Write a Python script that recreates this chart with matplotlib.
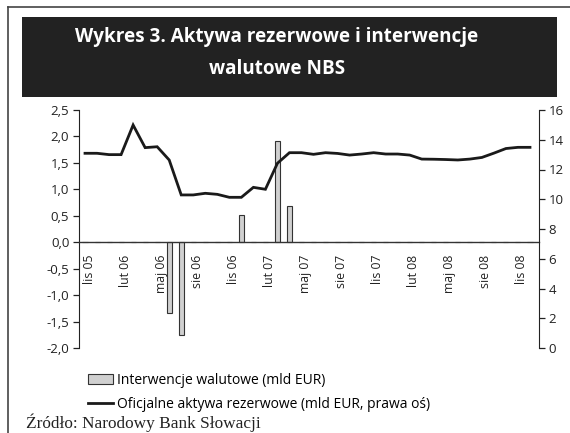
import matplotlib.pyplot as plt
import matplotlib.transforms as mtransforms
from matplotlib.lines import Line2D
from matplotlib.patches import Rectangle
from matplotlib.ticker import FuncFormatter

# =====================================================================
# DATA (lis 05 .. gru 08, monthly)
# =====================================================================
tick_labels = ["lis 05", "lut 06", "maj 06", "sie 06", "lis 06", "lut 07", "maj 07",
               "sie 07", "lis 07", "lut 08", "maj 08", "sie 08", "lis 08"]

# oficjalne aktywa rezerwowe, mld EUR (prawa oś)
reserves = [13.09, 13.09, 13.0, 13.0, 14.99, 13.47, 13.53, 12.64, 10.29, 10.29,
            10.40, 10.33, 10.13, 10.13, 10.80, 10.67, 12.42, 13.13, 13.13, 13.02,
            13.13, 13.08, 12.97, 13.04, 13.13, 13.04, 13.04, 12.97, 12.70, 12.69,
            12.67, 12.64, 12.70, 12.81, 13.10, 13.41, 13.49, 13.49]

# interwencje walutowe, mld EUR
interventions = [0, 0, 0, 0, 0, 0, 0, -1.34, -1.75, 0,
                 0, 0, 0, 0.51, 0, 0, 1.92, 0.69, 0, 0,
                 0, 0, 0, 0, 0, 0, 0, 0, 0, 0,
                 0, 0, 0, 0, 0, 0, 0, 0]

TITLE = "Wykres 3. Aktywa rezerwowe i interwencje\nwalutowe NBS"
SOURCE = "Źródło: Narodowy Bank Słowacji"
# =====================================================================

plt.rcParams['font.family'] = ['Open Sans', 'DejaVu Sans']

W, H = 570, 433
fig = plt.figure(figsize=(W / 100, H / 100), dpi=100)

# outer frame (left + top edge)
fig.add_artist(Line2D([8 / W, 8 / W], [0, 1 - 7 / H], color='#444444', lw=1.2))
fig.add_artist(Line2D([8 / W, 1], [1 - 7 / H, 1 - 7 / H], color='#444444', lw=1.2))

# dark title box
fig.add_artist(Rectangle((22 / W, 1 - 97 / H), (557 - 22) / W, 80 / H,
                         facecolor='#222222', edgecolor='none'))
fig.text(277 / W, 1 - 53 / H, TITLE, color='white', fontsize=13.6, fontweight='bold',
         ha='center', va='center', linespacing=1.75)

ax = fig.add_axes([79 / W, 1 - 348 / H, (539 - 79) / W, (348 - 110) / H])
ax2 = ax.twinx()

x = list(range(len(reserves)))

bars = ax.bar(x, interventions, width=0.42, color='#d0d0d0', edgecolor='#333333',
              linewidth=0.8, zorder=2)
line, = ax2.plot(x, reserves, color='#1a1a1a', lw=2.0, solid_joinstyle='miter')

ax.set_xlim(-0.5, len(reserves) - 0.25)
ax.set_ylim(-2.0, 2.5)
ax2.set_ylim(0, 16)
ax.set_yticks([-2.0, -1.5, -1.0, -0.5, 0.0, 0.5, 1.0, 1.5, 2.0, 2.5])
ax.yaxis.set_major_formatter(FuncFormatter(lambda v, p: f"{v:.1f}".replace('.', ',')))
ax2.set_yticks(range(0, 17, 2))

for a in (ax, ax2):
    a.spines['top'].set_visible(False)
    a.tick_params(axis='y', direction='out', length=4, width=0.9, color='#222222',
                  labelsize=9.5, labelcolor='#222222', pad=3)
ax2.spines['left'].set_visible(False)
ax2.spines['bottom'].set_visible(False)
ax.spines['right'].set_visible(False)
ax.spines['left'].set_color('#222222')
ax2.spines['right'].set_color('#222222')

# zero line carries the category labels
ax.spines['bottom'].set_position(('data', 0))
ax.spines['bottom'].set_color('#333333')
ax.spines['bottom'].set_linewidth(1.0)
ax.spines['bottom'].set_zorder(3)
ax.set_xticks(x[::3])
ax.set_xticklabels(tick_labels, rotation=90, fontsize=8.8, color='#222222', va='top')
ax.tick_params(axis='x', length=0, pad=9)
shift = mtransforms.ScaledTranslation(4 / 100, 0, fig.dpi_scale_trans)
for lab in ax.get_xticklabels():
    lab.set_transform(lab.get_transform() + shift)

fig.legend([bars, line], ["Interwencje walutowe (mld EUR)",
                          "Oficjalne aktywa rezerwowe (mld EUR, prawa oś)"],
           loc='upper left', bbox_to_anchor=(88 / W, 1 - 373 / H), frameon=False,
           fontsize=10, handlelength=1.8, handletextpad=0.3, labelspacing=0.65,
           borderpad=0, borderaxespad=0)

fig.text(26 / W, 1 - 423 / H, SOURCE, family='Liberation Serif', fontsize=12.4,
         color='#222222', va='center', ha='left')

fig.savefig("out.png", dpi=100)
